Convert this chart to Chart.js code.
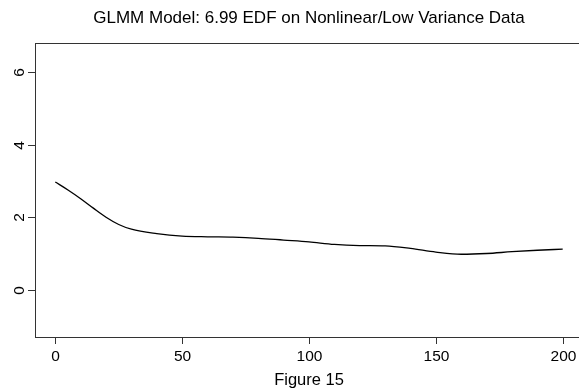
<!DOCTYPE html>
<html>
<head>
<meta charset="utf-8">
<script src="https://cdn.jsdelivr.net/npm/chart.js@4.4.1/dist/chart.umd.min.js"></script>
<style>
  html, body { margin: 0; padding: 0; background: #fff; overflow: hidden; }
  #wrap { width: 600px; height: 392px; }
</style>
</head>
<body>
<div id="wrap"><canvas id="canvas" width="600" height="392"></canvas></div>
<script>
// values
var fitX = [0, 5, 10, 15, 20, 25, 30, 40, 50, 60, 70, 80, 90, 100, 110, 120, 130, 140, 150, 160, 170, 180, 190, 200];
var fitY = [2.97, 2.75, 2.51, 2.25, 2.00, 1.80, 1.67, 1.55, 1.48, 1.46, 1.45, 1.42, 1.37, 1.32, 1.25, 1.22, 1.21, 1.14, 1.04, 0.98, 1.00, 1.05, 1.09, 1.12];

var xTicks = [0, 50, 100, 150, 200];
var yTicks = [0, 2, 4, 6];

var titleText = 'GLMM Model: 6.99 EDF on Nonlinear/Low Variance Data';
var xLabel = 'Figure 15';

var FONT = '"Liberation Sans", Arial, sans-serif';

// R style box, ticks and labels
var rAxes = {
  id: 'rAxes',
  afterDraw: function(chart) {
    var ctx = chart.ctx;
    var a = chart.chartArea;
    var sx = chart.scales.x, sy = chart.scales.y;
    ctx.save();
    ctx.strokeStyle = '#333';
    ctx.lineWidth = 1;
    ctx.strokeRect(a.left + 0.5, a.top + 0.5, a.right - a.left, a.bottom - a.top);

    ctx.fillStyle = '#000';
    ctx.font = '15.5px ' + FONT;
    ctx.textAlign = 'center';
    ctx.textBaseline = 'middle';
    xTicks.forEach(function(v) {
      var px = Math.round(sx.getPixelForValue(v)) + 0.5;
      ctx.beginPath();
      ctx.moveTo(px, a.bottom);
      ctx.lineTo(px, a.bottom + 7);
      ctx.stroke();
      ctx.fillText(String(v), px, 357);
    });
    yTicks.forEach(function(v) {
      var py = Math.round(sy.getPixelForValue(v)) + 0.5;
      ctx.beginPath();
      ctx.moveTo(a.left, py);
      ctx.lineTo(a.left - 7, py);
      ctx.stroke();
      ctx.save();
      ctx.translate(20, py);
      ctx.rotate(-Math.PI / 2);
      ctx.fillText(String(v), 0, 0);
      ctx.restore();
    });

    var cx = (a.left + a.right) / 2;
    ctx.font = '17px ' + FONT;
    ctx.fillText(titleText, cx, 18);
    ctx.font = '16.5px ' + FONT;
    ctx.fillText(xLabel, cx, 380);
    ctx.restore();
  }
};

var chart_config = {
  type: 'line',
  data: {
    datasets: [{
      data: fitX.map(function(x, i) { return { x: x, y: fitY[i] }; }),
      borderColor: '#000',
      borderWidth: 1.3,
      pointRadius: 0,
      fill: false,
      cubicInterpolationMode: 'monotone'
    }]
  },
  options: {
    responsive: false,
    animation: false,
    layout: { padding: { left: 35, top: 43, right: 17, bottom: 55 } },
    plugins: { legend: { display: false }, tooltip: { enabled: false }, title: { display: false } },
    scales: {
      x: { type: 'linear', min: -8, max: 208, display: false },
      y: { type: 'linear', min: -1.3, max: 6.8, display: false }
    }
  },
  plugins: [rAxes]
};

window.onload = function() {
  var ctx = document.getElementById('canvas').getContext('2d');
  window.myLine = new Chart(ctx, chart_config);
};
</script>
</body>
</html>
